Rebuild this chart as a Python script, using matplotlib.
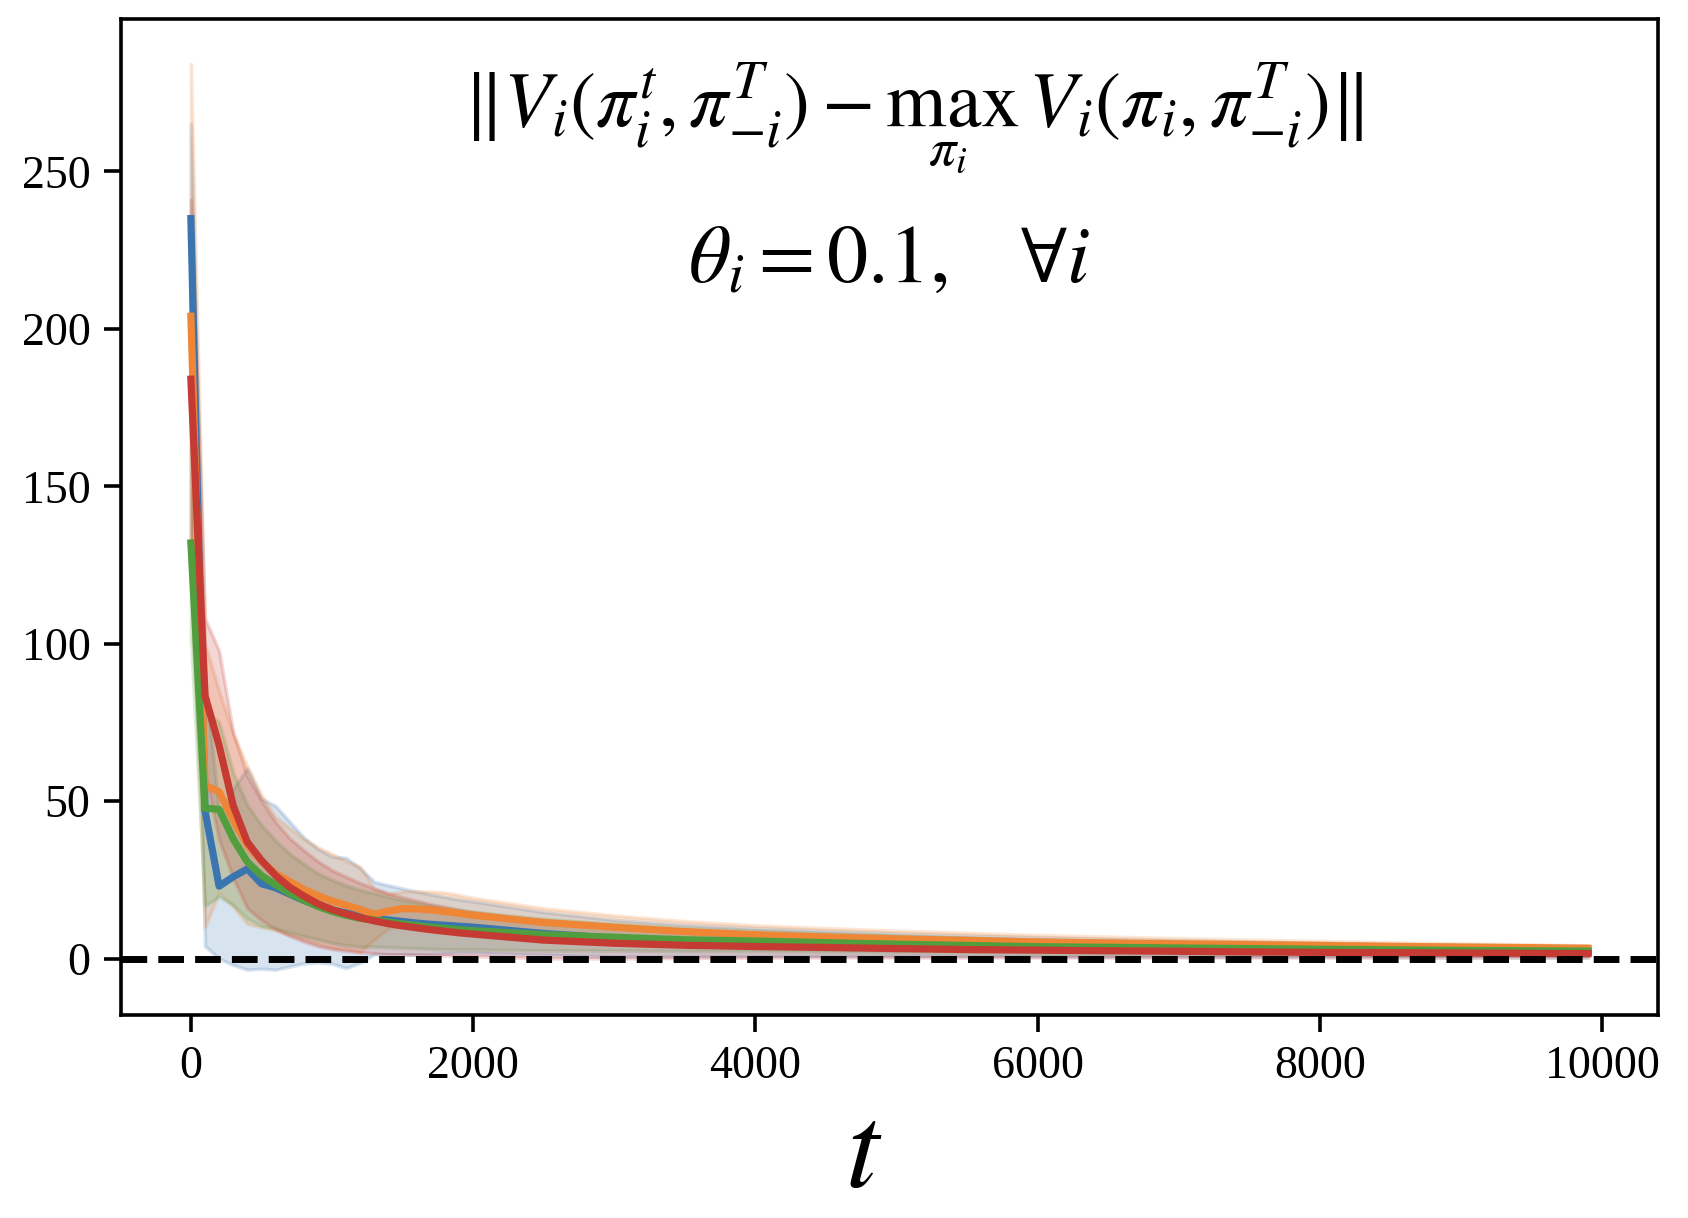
import matplotlib
matplotlib.use('Agg')
import matplotlib.pyplot as plt
import numpy as np

plt.rcParams['font.family'] = ['Liberation Serif', 'DejaVu Serif']
plt.rcParams['mathtext.fontset'] = 'stix'

# iterations
t = [0, 100, 200, 300, 400, 500, 600, 700, 800, 900, 1000, 1100, 1200, 1300,
     1400, 1500, 1600, 1700, 1800, 1900, 2000, 2500, 3000, 3500, 4000, 4500,
     5000, 5500, 6000, 6500, 7000, 7500, 8000, 8500, 9000, 9500, 9900]

# mean gap per run
blue_mean = [235, 47, 23, 26, 28.5, 23.8, 22.5, 20.5, 18.5, 16.8, 15.4, 14.5, 13.7, 12.9,
             12.3, 11.8, 11.3, 10.9, 10.6, 10.3, 10.0, 8.0, 6.5, 5.7, 5.2, 4.8,
             4.4, 4.0, 3.7, 3.4, 3.2, 3.0, 2.8, 2.6, 2.4, 2.3, 2.2]
orange_mean = [204, 55, 53, 44, 36, 31, 27, 24.5, 22, 20, 18.3, 17, 15.6, 14.1,
               15.1, 15.9, 15.8, 15.5, 15.0, 14.4, 13.8, 11.5, 10.0, 8.6, 7.6, 6.9,
               6.3, 5.8, 5.3, 5.0, 4.7, 4.45, 4.2, 3.9, 3.7, 3.5, 3.3]
green_mean = [132, 47.8, 47.4, 38, 30.7, 26.4, 23.5, 20.8, 18.6, 16.6, 15.0, 13.8, 12.8, 12.3,
              11.6, 11.0, 10.5, 10.0, 9.6, 9.2, 8.9, 7.6, 6.8, 6.0, 5.6, 5.1,
              4.6, 4.2, 3.8, 3.6, 3.4, 3.2, 3.0, 2.8, 2.6, 2.5, 2.4]
red_mean = [184, 83.5, 67.7, 48.6, 37, 31.2, 26.4, 22.7, 19.9, 17.4, 15.6, 14.2, 13.0, 12.0,
            11.1, 10.4, 9.8, 9.2, 8.7, 8.2, 7.8, 5.9, 4.9, 4.25, 3.85, 3.55,
            3.2, 2.9, 2.7, 2.5, 2.35, 2.15, 2.0, 1.9, 1.8, 1.7, 1.6]

# spread (half-width of shaded band)
blue_sd = [30, 43, 23, 28, 32, 27, 26, 23, 20, 18, 17, 17.5, 15, 11.5,
           11, 10.5, 10, 9.5, 9, 8.5, 8.2, 6.8, 5.8, 5.0, 4.4, 4.0,
           3.6, 3.3, 3.0, 2.8, 2.6, 2.4, 2.2, 2.1, 2.0, 1.9, 1.8]
orange_sd = [80, 45, 32, 27.5, 25, 21, 18, 17, 16, 15.4, 15, 14, 13.6, 8,
             5.5, 5.5, 5.6, 5.8, 6.0, 5.8, 5.5, 4.5, 3.7, 3.3, 3.0, 2.8,
             2.6, 2.4, 2.2, 2.0, 1.8, 1.6, 1.4, 1.3, 1.1, 1.0, 0.9]
green_sd = [30, 31, 27.7, 21, 18, 16, 14, 12.5, 11.5, 10.5, 10, 9.5, 9, 8.5,
            8, 7.6, 7.2, 6.9, 6.6, 6.3, 6, 5, 4.2, 3.6, 3.2, 2.9,
            2.6, 2.4, 2.2, 2.0, 1.8, 1.7, 1.6, 1.5, 1.4, 1.3, 1.2]
red_sd = [57, 24.5, 30, 23, 21, 19, 17, 15.5, 14.5, 13.5, 12.5, 11.8, 11, 10.3,
          9.7, 9.1, 8.6, 8.1, 7.7, 7.3, 7.0, 5.8, 4.8, 4.0, 3.5, 3.1,
          2.8, 2.5, 2.3, 2.1, 1.9, 1.7, 1.6, 1.5, 1.4, 1.3, 1.2]

colors = ['#3b75af', '#ef8636', '#519e3e', '#c53a32']
means = [blue_mean, orange_mean, green_mean, red_mean]
sds = [blue_sd, orange_sd, green_sd, red_sd]

fig = plt.figure(figsize=(8.44, 6.09), dpi=200)
ax = fig.add_axes([0.0717, 0.1667, 0.9105, 0.8177])

x = np.array(t)
for m, s, c in zip(means, sds, colors):
    m = np.array(m)
    s = np.array(s)
    ax.plot(x, m, color=c, lw=2.6)
    ax.fill_between(x, m - s, m + s, color=c, alpha=0.2, lw=1.3)

ax.axhline(0, color='k', ls='--', lw=2.5)

ax.set_yticks([0, 50, 100, 150, 200, 250])
ax.set_xticks([0, 2000, 4000, 6000, 8000, 10000])
ax.tick_params(labelsize=16.5, length=6, width=1.3, pad=5)
for sp in ax.spines.values():
    sp.set_linewidth(1.3)

ax.set_xlabel('$t$', fontsize=43)
ax.xaxis.set_label_coords(0.483, -0.09)

ax.text(0.515, 0.892, r'$\Vert V_i(\pi_i^t, \pi_{-i}^T) - \max_{\pi_i}\, V_i(\pi_i, \pi_{-i}^T)\Vert$',
        transform=ax.transAxes, ha='center', va='baseline', fontsize=28)
ax.text(0.5, 0.736, r'$\theta_i = 0.1, \quad \forall i$',
        transform=ax.transAxes, ha='center', va='baseline', fontsize=29.5)

fig.savefig('out.png', dpi=200)
